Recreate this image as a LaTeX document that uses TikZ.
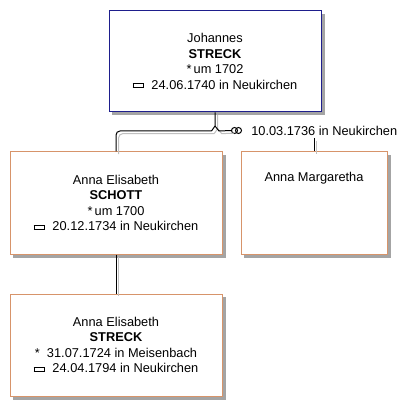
\documentclass[tikz,border=0pt]{standalone}
\usepackage{fontspec}
\setmainfont{Liberation Sans}
\definecolor{bluebd}{HTML}{1E1E8C}
\definecolor{orbd}{HTML}{D7946A}
\definecolor{shadowgray}{HTML}{A4A4A4}
\definecolor{lineshadow}{HTML}{C0C0C0}
\newcommand\bur{\raisebox{0.16em}{\setlength\fboxsep{0pt}\setlength\fboxrule{0.8pt}\fbox{\rule{0pt}{0.24em}\rule{0.75em}{0pt}}}}
\begin{document}
\begin{tikzpicture}[x=0.75pt,y=-0.75pt,
  person/.style={draw, line width=0.75pt, fill=white, align=center, inner sep=0pt,
    font=\fontsize{9.6pt}{11.7pt}\selectfont},
  ego/.style={person, draw=bluebd},
  rel/.style={person, draw=orbd},
  conn/.style={draw=black, line width=0.75pt},
  connsh/.style={draw=lineshadow, line width=0.75pt},
  ring/.style={draw=black, line width=0.75pt}]
\useasboundingbox (0,0) rectangle (406,416);
\fill[white] (0,0) rectangle (406,416);
% box shadows
\fill[shadowgray] (112,14) rectangle (324.5,115.5);
\fill[shadowgray] (13,155) rectangle (225.5,257.5);
\fill[shadowgray] (244,155) rectangle (390.5,257.5);
\fill[shadowgray] (13,297) rectangle (225.5,399.5);
\node[ego, minimum width={212*0.75pt}, minimum height={101*0.75pt}] (top) at (215,61.5)
  {Johannes\\ \textbf{STRECK}\\ *\,um 1702\\ \bur\ \ 24.06.1740 in Neukirchen};
\node[rel, minimum width={212*0.75pt}, minimum height={102*0.75pt}] (spouse) at (116,203)
  {Anna Elisabeth\\ \textbf{SCHOTT}\\ *\,um 1700\\ \bur\ \ 20.12.1734 in Neukirchen};
\node[rel, minimum width={146*0.75pt}, minimum height={102*0.75pt}] (other) at (314,203)
  {Anna Margaretha\\ \strut\\ \strut\\ \strut};
\node[rel, minimum width={212*0.75pt}, minimum height={102*0.75pt}] (child) at (116,345)
  {Anna Elisabeth\\ \textbf{STRECK}\\ *\ \ 31.07.1724 in Meisenbach\\ \bur\ \ 24.04.1794 in Neukirchen};
% marriage symbol and date
\draw[ring] (234.5,130.5) circle[radius=2.25pt];
\draw[ring] (238.5,130.5) circle[radius=2.25pt];
\coordinate (mr) at (231.5,130.5);
\node[anchor=west, inner sep=0pt, font=\fontsize{9.6pt}{11.7pt}\selectfont] (marr) at (251,130.5)
  {10.03.1736 in Neukirchen};
\coordinate (j) at (top.south |- 0,126);
\coordinate (jl) at (211.5,131);
\coordinate (jr) at (219,131);
\coordinate (cl) at (spouse.north |- jl);
\coordinate (ot) at (other.north |- 0,138);
% shadow copies of connectors
\begin{scope}[transform canvas={shift={(2pt,-2pt)}}]
  \draw[connsh] (top.south) -- (j) -- (jl);
  \draw[connsh, rounded corners=3pt] (jl) -- (cl) -- (spouse.north);
  \draw[connsh] (j) -- (jr) -- (mr);
  \draw[connsh] (ot) -- (other.north);
  \draw[connsh] (spouse.south) -- (child.north);
\end{scope}
\draw[conn] (top.south) -- (j) -- (jl);
\draw[conn, rounded corners=3pt] (jl) -- (cl) -- (spouse.north);
\draw[conn] (j) -- (jr) -- (mr);
\draw[conn] (ot) -- (other.north);
\draw[conn] (spouse.south) -- (child.north);
\end{tikzpicture}
\end{document}
